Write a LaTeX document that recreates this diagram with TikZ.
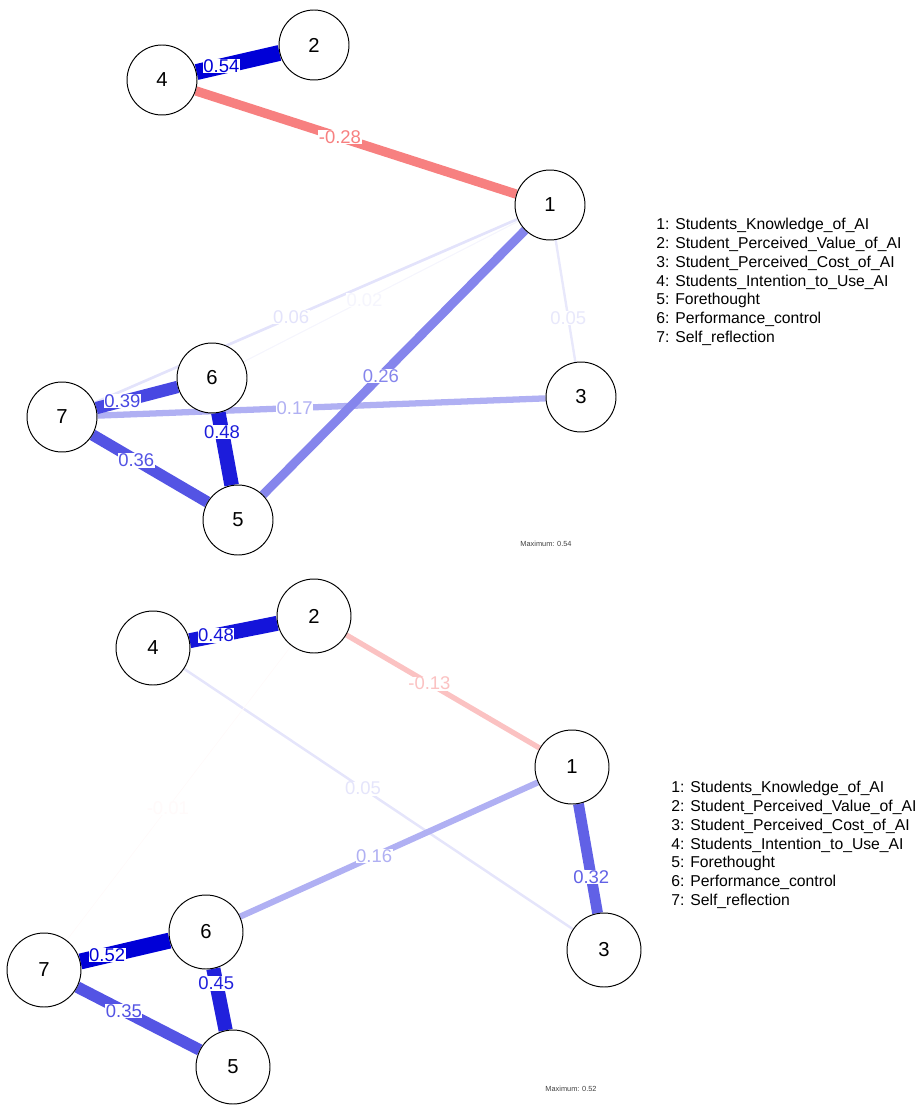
\documentclass[tikz,border=0pt]{standalone}
\usepackage{fontspec}
\setmainfont{Liberation Sans}
\usetikzlibrary{backgrounds}
\definecolor{qblue}{RGB}{0,0,215}
\definecolor{qred}{RGB}{240,10,10}
\begin{document}
\begin{tikzpicture}[x=0.02cm, y=-0.02cm,
    vertex/.style={circle, draw=black, fill=white, line width=0.55pt, inner sep=0pt,
        font=\fontsize{11.5}{11.5}\selectfont},
    topvertex/.style={vertex, minimum size=1.4cm},
    lowvertex/.style={vertex, minimum size=1.48cm},
    weight/.style={fill=white, inner sep=0.3pt, font=\fontsize{10.5}{10.5}\selectfont},
    legend/.style={anchor=west, align=left, inner sep=0pt, text=black,
        font=\fontsize{8.95}{10.7}\selectfont},
    maxnote/.style={inner sep=0pt, text=black!75, font=\fontsize{4.2}{4.2}\selectfont}]
% \clip (0,0) rectangle (921,1111);
\useasboundingbox (0,0) rectangle (921,1111);

% ---------- upper network ----------

% Marking nodes by circles
\draw (550,205) node [topvertex] (t1) {1};%
\draw (314,45) node [topvertex] (t2) {2};%
\draw (581,397) node [topvertex] (t3) {3};%
\draw (162,80) node [topvertex] (t4) {4};%
\draw (238,520) node [topvertex] (t5) {5};%
\draw (212,378) node [topvertex] (t6) {6};%
\draw (62,417) node [topvertex] (t7) {7};%

\begin{scope}[on background layer]
% Drawing edge 4 2
\draw [qblue, line width=9.07pt] (t4) -- node [weight, pos=0.30] {0.54} (t2);%
% Drawing edge 4 1
\draw [qred!52!white, line width=5.33pt] (t4) -- node [weight, pos=0.45] {-0.28} (t1);%
% Drawing edge 7 1
\draw [qblue!11!white, line width=1.53pt] (t7) -- node [weight, pos=0.465] {0.06} (t1);%
% Drawing edge 6 1
\draw [qblue!4!white, line width=0.62pt] (t6) -- node [weight, pos=0.44] {0.02} (t1);%
% Drawing edge 1 3
\draw [qblue!9!white, line width=1.36pt] (t1) -- node [weight, pos=0.64] {0.05} (t3);%
% Drawing edge 7 3
\draw [qblue!31!white, line width=3.57pt] (t7) -- node [weight, pos=0.44] {0.17} (t3);%
% Drawing edge 5 1
\draw [qblue!48!white, line width=5.05pt] (t5) -- node [weight, pos=0.45] {0.26} (t1);%
% Drawing edge 7 6
\draw [qblue!72!white, line width=7.03pt] (t7) -- node [weight, pos=0.32] {0.39} (t6);%
% Drawing edge 6 5
\draw [qblue!89!white, line width=8.28pt] (t6) -- node [weight, pos=0.27] {0.48} (t5);%
% Drawing edge 7 5
\draw [qblue!67!white, line width=6.52pt] (t7) -- node [weight, pos=0.38] {0.36} (t5);%
\end{scope}

% Marking legend and maximum
\draw (656,282) node [legend] (keytop) {1: Students\_Knowledge\_of\_AI\\
    2: Student\_Perceived\_Value\_of\_AI\\
    3: Student\_Perceived\_Cost\_of\_AI\\
    4: Students\_Intention\_to\_Use\_AI\\
    5: Forethought\\
    6: Performance\_control\\
    7: Self\_reflection};%
\draw (546,544) node [maxnote] (maxtop) {Maximum: 0.54};%

% ---------- lower network ----------

% Marking nodes by circles
\draw (572,767) node [lowvertex] (b1) {1};%
\draw (314,616) node [lowvertex] (b2) {2};%
\draw (604,950) node [lowvertex] (b3) {3};%
\draw (153,648) node [lowvertex] (b4) {4};%
\draw (233,1067) node [lowvertex] (b5) {5};%
\draw (206,932) node [lowvertex] (b6) {6};%
\draw (44,970) node [lowvertex] (b7) {7};%

\begin{scope}[on background layer]
% Drawing edge 4 2
\draw [qblue!92!white, line width=8.5pt] (b4) -- node [weight, pos=0.30] {0.48} (b2);%
% Drawing edge 2 1
\draw [qred!25!white, line width=3pt] (b2) -- node [weight, pos=0.43] {-0.13} (b1);%
% Drawing edge 4 3
\draw [qblue!10!white, line width=1.42pt] (b4) -- node [weight, pos=0.46] {0.05} (b3);%
% Drawing edge 2 7
\draw [qred!2!white, line width=0.4pt] (b2) -- node [weight, pos=0.55] {-0.01} (b7);%
% Drawing edge 6 1
\draw [qblue!31!white, line width=3.5pt] (b6) -- node [weight, pos=0.45] {0.16} (b1);%
% Drawing edge 1 3
\draw [qblue!62!white, line width=6.18pt] (b1) -- node [weight, pos=0.67] {0.32} (b3);%
% Drawing edge 7 6
\draw [qblue, line width=9.07pt] (b7) -- node [weight, pos=0.30] {0.52} (b6);%
% Drawing edge 6 5
\draw [qblue!87!white, line width=8.05pt] (b6) -- node [weight, pos=0.24] {0.45} (b5);%
% Drawing edge 7 5
\draw [qblue!67!white, line width=6.63pt] (b7) -- node [weight, pos=0.38] {0.35} (b5);%
\end{scope}

% Marking legend and maximum
\draw (671,845) node [legend] (keylow) {1: Students\_Knowledge\_of\_AI\\
    2: Student\_Perceived\_Value\_of\_AI\\
    3: Student\_Perceived\_Cost\_of\_AI\\
    4: Students\_Intention\_to\_Use\_AI\\
    5: Forethought\\
    6: Performance\_control\\
    7: Self\_reflection};%
\draw (571,1089) node [maxnote] (maxlow) {Maximum: 0.52};%
\end{tikzpicture}
\end{document}
